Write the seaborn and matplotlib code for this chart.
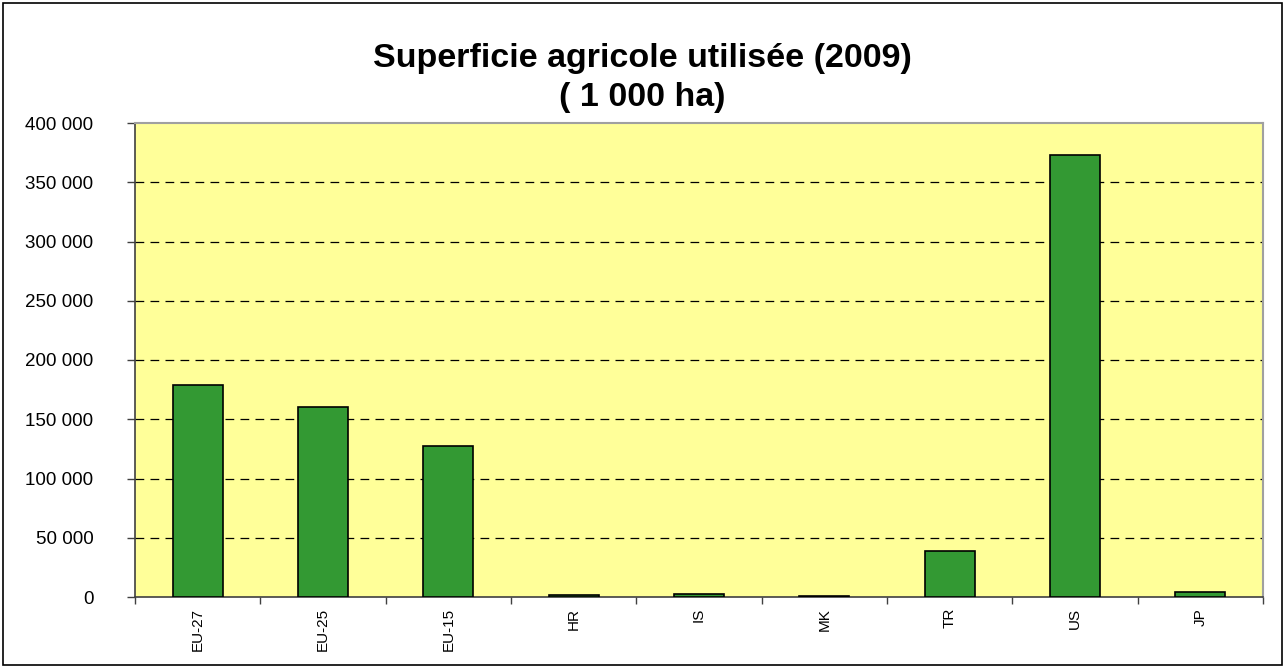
import matplotlib
matplotlib.use("Agg")
import matplotlib.pyplot as plt
import seaborn as sns
import pandas as pd
from matplotlib.ticker import FuncFormatter, FixedLocator
from matplotlib.patches import Rectangle

categories = ["EU-27", "EU-25", "EU-15", "HR", "IS", "MK", "TR", "US", "JP"]
values = [178800, 160300, 127300, 1300, 2300, 1100, 39000, 373300, 4600]
yticks = [0, 50000, 100000, 150000, 200000, 250000, 300000, 350000, 400000]

df = pd.DataFrame({"pays": categories, "sau": values})

sns.set_theme(style="white")
plt.rcParams['font.family'] = ['Liberation Sans', 'DejaVu Sans']
plt.rcParams['text.color'] = 'black'
plt.rcParams['xtick.color'] = 'black'
plt.rcParams['ytick.color'] = 'black'

fig = plt.figure(figsize=(12.85, 6.68), dpi=100)
ax = fig.add_axes([135/1285, 71/668, 1128/1285, 474/668])
ax.set_facecolor("#FFFF99")

sns.barplot(data=df, x="pays", y="sau", color="#339933", saturation=1,
            width=0.4, edgecolor="black", linewidth=1.2, ax=ax, zorder=3)

ax.set_xlim(-0.5, len(categories) - 0.5)
ax.set_ylim(0, 400000)
ax.set_yticks(yticks)
ax.yaxis.set_major_formatter(FuncFormatter(lambda v, p: f"{int(v):,}".replace(",", " ")))
ax.set_xlabel("")
ax.set_ylabel("")

for v in yticks[1:-1]:
    ax.axhline(v, color="black", lw=0.9, ls=(0, (7, 5)), zorder=1)

ax.tick_params(axis="x", which="major", length=0, labelsize=11, labelrotation=90, pad=8, labelcolor="black")
ax.xaxis.set_minor_locator(FixedLocator([i - 0.5 for i in range(len(categories) + 1)]))
ax.tick_params(axis="x", which="minor", length=5, width=1, direction="out", color="#404040", bottom=True)
ax.tick_params(axis="y", length=6, width=1, direction="out", color="#404040", left=True, labelsize=13.5, pad=24, labelcolor="black")

for side in ["left", "bottom"]:
    ax.spines[side].set_color("#404040")
    ax.spines[side].set_linewidth(1.2)
for side in ["top", "right"]:
    ax.spines[side].set_color("#A0A0A0")
    ax.spines[side].set_linewidth(1.5)
for s in ax.spines.values():
    s.set_visible(True)

fig.text(0.5, 1 - 67/668, "Superficie agricole utilisée (2009)", ha="center", va="baseline",
         fontsize=24.5, fontweight="bold", color="black")
fig.text(0.5, 1 - 106/668, "( 1 000 ha)", ha="center", va="baseline",
         fontsize=24.5, fontweight="bold", color="black")

fig.patches.append(Rectangle((3/1285, 3/668), 1 - 6/1285, 1 - 6/668, transform=fig.transFigure,
                             fill=False, edgecolor="black", lw=1.2))

fig.savefig("out.png", dpi=100)
